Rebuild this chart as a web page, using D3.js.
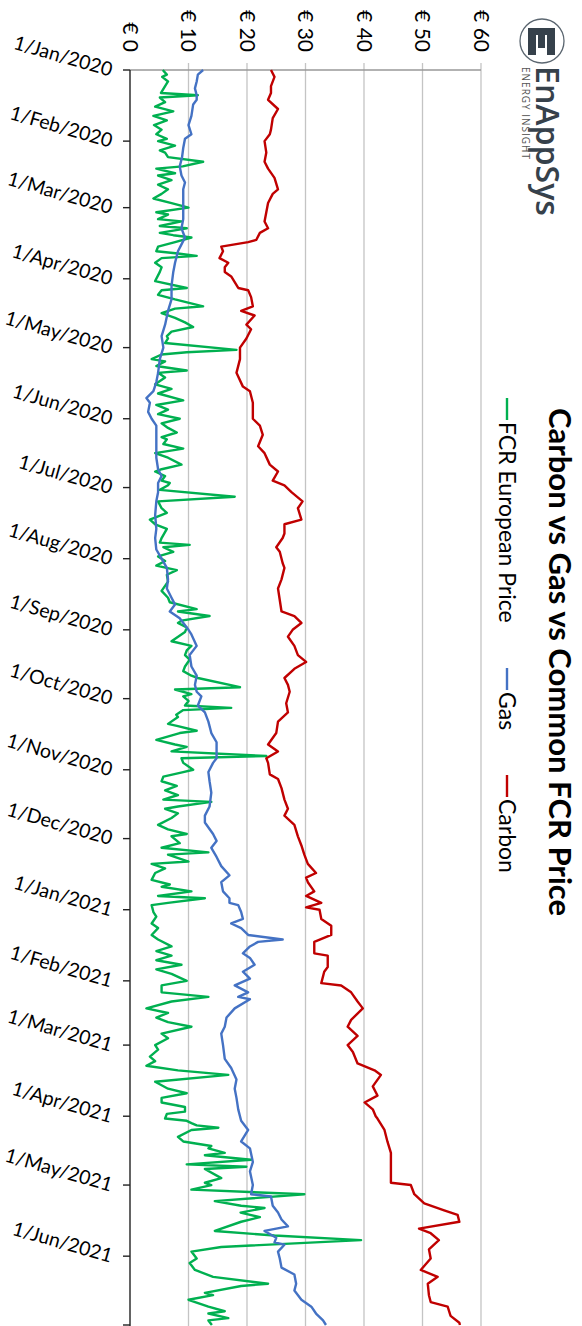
<!DOCTYPE html>
<html>
<head>
<meta charset="utf-8">
<script src="https://cdn.jsdelivr.net/npm/d3@7"></script>
<style>
  html, body { margin: 0; padding: 0; background: #fff; }
  svg { display: block; font-family: Lato, "Open Sans", sans-serif; }
</style>
</head>
<body>
<svg id="chart" width="582" height="1326"></svg>
<script>
// ---- Data: days counted from 1 Jan 2020, prices in € ----
const fcrDay = [0,2,3,5,7,10,11,12,14,16,18,20,22,24,26,28,30,31,33,35,36,38,40,42,43,45,46,48,50,52,54,56,58,60,62,63,65,66,68,69,71,72,73,75,77,79,80,81,82,84,86,88,
  92,95,96,98,100,103,104,106,108,110,112,114,116,117,119,122,123,124,126,127,129,131,132,134,137,139,141,144,146,148,150,152,154,156,158,160,161,163,165,167,169,172,174,175,177,179,180,
  181,183,186,188,191,193,196,198,200,204,206,207,208,210,212,214,216,218,220,223,227,230,232,235,236,238,240,241,243,245,249,251,253,255,257,260,262,264,265,269,270,272,
  273,275,277,278,279,281,282,285,286,288,289,292,294,295,297,299,300,302,305,306,308,310,312,314,316,318,319,321,322,324,326,329,331,333,334,337,339,341,342,345,346,348,350,353,355,356,358,360,361,363,364,
  367,369,372,374,377,379,382,384,386,388,390,392,394,397,399,402,404,406,409,411,413,415,417,420,422,425,427,430,432,434,436,438,441,444,446,448,450,452,454,455,
  457,458,459,460,461,462,465,467,469,470,472,473,475,477,478,479,483,485,486,488,490,493,495,496,498,500,502,506,508,510,513,515,518,520,523,526,529,530,533,534,536,539,541,542,544,545,547];
const fcrPrice = [5.6,6.3,5.5,6.5,6.0,5.3,11.6,5.1,6.0,4.3,7.4,4.0,6.3,4.1,5.4,4.5,6.3,4.8,7.7,5.1,6.0,6.5,12.5,9.0,4.5,7.7,4.8,7.1,4.8,6.5,5.4,4.0,7.1,10.0,4.5,6.5,4.8,8.8,5.1,9.7,5.1,7.4,10.5,7.7,4.8,4.5,8.2,11.4,5.4,4.3,5.4,5.1,
  4.3,9.7,5.4,4.8,7.7,12.5,7.7,5.4,7.7,9.4,10.8,7.1,6.3,6.5,6.0,18.2,9.7,5.4,3.7,6.0,4.5,9.7,4.8,6.0,4.3,7.1,4.8,9.1,4.5,6.5,4.8,8.5,5.4,6.5,8.0,5.4,6.3,5.7,9.1,4.3,6.5,8.8,5.4,4.3,6.0,5.4,6.8,
  6.5,5.1,17.9,4.8,5.4,6.3,3.4,4.3,6.3,5.4,5.1,10.2,5.7,7.4,4.8,6.0,4.5,8.0,6.3,6.5,5.4,6.5,6.8,11.4,8.2,13.6,8.8,8.2,9.7,9.4,7.1,10.5,9.7,9.4,10.2,9.4,9.1,10.5,11.6,18.8,7.7,10.5,
  9.1,10.0,9.4,17.3,9.1,7.9,8.2,6.5,8.2,11.4,8.5,4.5,7.7,9.7,7.1,23.3,8.8,9.1,10.8,9.1,5.7,5.4,8.0,6.0,8.2,5.7,13.9,8.2,6.0,8.2,7.1,4.8,6.5,9.7,7.1,8.5,5.4,13.4,6.5,10.0,3.7,6.0,4.3,3.7,6.8,5.4,10.5,4.8,12.8,6.5,3.7,
  4.0,4.5,3.7,4.8,3.7,4.8,7.1,4.5,7.1,4.5,8.8,4.5,7.1,9.7,5.4,5.4,13.4,7.1,2.8,6.5,4.5,6.5,10.5,5.4,6.5,4.3,4.8,3.4,4.3,2.8,8.2,16.8,4.3,6.5,9.7,5.4,5.4,9.4,9.4,6.3,
  6.0,9.7,10.5,11.4,15.1,10.5,8.2,9.1,13.9,13.4,16.2,12.8,20.7,9.7,19.9,12.8,15.6,12.8,13.9,10.5,29.8,14.5,19.0,23.0,18.9,22.2,19.0,14.5,24.7,39.5,15.6,10.5,11.4,10.2,11.1,14.2,23.6,19.0,12.8,14.2,10.0,13.4,16.2,13.4,16.8,13.4,14.0];

const gasDay = [0,2,5,8,11,13,15,20,24,28,30,34,38,42,46,49,52,56,60,65,69,73,76,79,84,88,94,100,105,111,116,121,126,132,136,140,143,145,149,152,155,159,164,169,174,177,180,
  184,188,194,200,204,209,213,217,222,226,230,233,236,239,244,246,251,255,260,264,268,271,273,277,280,284,289,293,297,300,302,306,310,315,321,325,328,333,336,339,343,347,351,354,358,361,363,
  364,367,370,372,374,377,379,380,382,385,387,390,393,396,399,402,404,405,409,413,417,420,425,431,435,440,444,448,453,456,458,462,467,470,476,480,486,490,491,495,498,501,504,506,509,511,512,515,518,522,525,529,532,536,539,542,545,547];
const gasPrice = [12.5,11.6,11.4,11.1,11.4,11.4,10.8,10.5,10.0,10.5,9.4,9.1,8.9,8.5,8.8,9.4,9.1,9.1,9.1,9.1,8.8,9.4,8.8,8.2,7.7,7.4,7.1,7.1,6.5,6.0,5.4,5.7,5.1,4.8,4.5,4.0,2.8,3.4,3.1,3.7,4.5,4.5,4.5,4.5,4.8,5.4,4.8,
  4.8,4.5,4.3,4.5,4.3,4.5,5.4,6.3,6.5,6.3,7.1,7.7,6.8,8.5,10.0,10.5,11.4,10.2,10.5,11.4,11.1,11.4,12.2,11.6,12.8,13.4,13.9,14.8,14.8,14.8,14.2,13.4,13.6,13.9,13.6,12.8,12.8,14.2,14.8,13.9,14.8,15.6,17.0,15.6,15.9,17.0,17.0,
  18.5,19.0,19.3,17.3,19.0,20.2,26.1,21.9,20.5,19.3,20.5,21.3,19.3,20.5,17.9,20.2,18.5,20.5,17.9,16.5,16.2,15.6,15.9,16.2,17.3,18.2,17.9,18.2,18.5,18.8,19.0,20.2,19.0,20.5,21.0,20.5,21.0,20.7,24.1,24.4,25.3,25.9,27.0,23.0,25.0,24.7,26.4,25.3,25.6,25.9,28.1,28.4,28.1,29.3,31.0,31.8,33.0,33.5];

const carbonDay = [0,3,7,10,13,17,21,26,28,31,36,40,43,47,52,54,58,62,66,69,71,74,75,77,79,82,84,86,88,90,95,96,99,103,105,107,111,113,117,121,126,132,138,140,145,152,155,159,164,167,172,175,179,
  181,184,188,191,196,198,202,204,208,210,215,217,222,226,231,236,238,241,244,247,251,255,258,261,265,268,271,276,280,284,289,294,297,300,302,307,309,313,318,322,325,329,334,338,342,346,350,352,354,358,360,
  363,365,366,370,373,377,380,385,386,391,393,398,399,402,406,409,414,417,421,425,428,433,436,438,443,447,450,453,456,457,462,467,472,476,480,485,486,490,494,497,499,502,505,507,510,514,518,523,526,529,534,537,539,543,546,547];
const carbonPrice = [24.1,24.7,24.1,24.1,23.6,25.3,24.4,24.1,23.9,23.0,23.3,23.0,23.6,24.7,25.3,24.4,23.6,23.3,23.0,23.6,22.2,21.6,20.2,15.6,15.9,15.3,16.8,16.2,16.2,17.3,18.5,20.2,20.7,21.0,19.0,21.3,19.9,20.7,19.9,18.8,18.8,18.2,19.3,20.5,21.0,21.0,22.2,22.7,21.9,23.0,23.9,25.3,24.4,
  26.4,27.6,29.5,28.7,29.3,26.4,26.4,26.1,25.0,25.6,26.1,26.4,25.9,25.3,25.6,25.9,28.1,29.3,27.8,27.0,28.1,28.7,30.1,28.1,26.4,27.0,27.3,26.7,27.0,25.3,25.0,23.6,25.3,23.3,23.6,23.9,25.3,25.9,26.4,27.0,26.4,28.1,28.7,29.3,29.8,30.4,31.8,30.1,30.4,31.5,30.1,
  32.7,30.1,32.4,32.7,34.4,34.4,31.5,31.5,33.8,33.8,33.2,32.7,36.1,37.8,38.9,39.8,37.8,37.2,38.9,37.2,38.1,38.9,41.8,42.9,41.5,42.3,40.1,41.5,42.0,42.3,43.5,44.0,44.6,44.6,44.6,44.6,48.0,48.6,50.3,53.7,56.0,56.3,49.4,51.4,52.8,51.1,51.4,49.7,52.6,50.9,51.1,51.4,54.3,54.8,56.3,56.4];

const seriesNames = ["FCR European Price", "Gas", "Carbon"];
const seriesColors = ["#00b050", "#4472c4", "#c00000"];
const valueTicks = [0, 10, 20, 30, 40, 50, 60];
const chartTitle = "Carbon vs Gas vs Common FCR Price";

// ---- Frame: the chart is laid out landscape and turned a quarter clockwise ----
const W = 1326, H = 582;
const svg = d3.select("#chart");
const g = svg.append("g").attr("transform", `translate(${H},0) rotate(90)`);

const startDate = new Date(2020, 0, 1);
const endDate = new Date(2021, 6, 1);
const dayToDate = d => new Date(2020, 0, 1 + d);

const x = d3.scaleTime().domain([startDate, endDate]).range([70, 1325]);
const y = d3.scaleLinear().domain([0, 60]).range([452, 101]);

// gridlines + value-axis tick marks
g.append("g").selectAll("line").data(valueTicks.filter(v => v > 0)).join("line")
  .attr("x1", 63).attr("x2", W).attr("y1", d => y(d)).attr("y2", d => y(d))
  .attr("stroke", "#c4c4c4").attr("stroke-width", 1.3);

// value axis line
g.append("line").attr("x1", 70).attr("x2", 70).attr("y1", y(0)).attr("y2", y(60))
  .attr("stroke", "#999").attr("stroke-width", 1.3);

// value labels
g.append("g").selectAll("text").data(valueTicks).join("text")
  .attr("x", 52).attr("y", d => y(d)).attr("dy", "0.35em")
  .attr("text-anchor", "end").attr("font-size", 21).attr("fill", "#000")
  .text(d => "€ " + d);

// date axis
const months = d3.timeMonth.range(startDate, d3.timeDay.offset(endDate, 1));
const dateAxis = g.append("g");
dateAxis.append("line").attr("x1", 70).attr("x2", W).attr("y1", y(0)).attr("y2", y(0))
  .attr("stroke", "#222").attr("stroke-width", 1.4);
dateAxis.selectAll("line.tick").data(months).join("line").attr("class", "tick")
  .attr("x1", d => x(d)).attr("x2", d => x(d)).attr("y1", y(0)).attr("y2", y(0) + 7)
  .attr("stroke", "#222").attr("stroke-width", 1.4);
const fmt = d3.timeFormat("%-d/%b/%Y");
dateAxis.selectAll("text").data(months.filter(d => d < endDate)).join("text")
  .attr("transform", d => `translate(${x(d)},${y(0) + 18}) rotate(-74)`)
  .attr("dy", "0.35em").attr("text-anchor", "end")
  .attr("font-size", 19.5).attr("fill", "#000")
  .text(d => fmt(d));

// series lines
const line = d3.line().x(d => x(d.date)).y(d => y(d.v)).curve(d3.curveLinear);
const series = [
  { days: fcrDay, vals: fcrPrice },
  { days: gasDay, vals: gasPrice },
  { days: carbonDay, vals: carbonPrice }
];
series.forEach((s, i) => {
  const pts = s.days.map((d, j) => ({ date: dayToDate(d), v: s.vals[j] }));
  g.append("path").datum(pts).attr("d", line)
    .attr("fill", "none").attr("stroke", seriesColors[i])
    .attr("stroke-width", 2.4).attr("stroke-linejoin", "round");
});

// title
g.append("text").attr("x", 662).attr("y", 33).attr("text-anchor", "middle")
  .attr("font-size", 31).attr("font-weight", 700).attr("fill", "#000")
  .text(chartTitle);

// legend
const legendX = [398, 668, 775];
const legend = g.append("g");
seriesNames.forEach((name, i) => {
  legend.append("line").attr("x1", legendX[i]).attr("x2", legendX[i] + 22)
    .attr("y1", 75).attr("y2", 75).attr("stroke", seriesColors[i]).attr("stroke-width", 2.4);
  legend.append("text").attr("x", legendX[i] + 24).attr("y", 75).attr("dy", "0.35em")
    .attr("font-size", 23).attr("fill", "#000").text(name);
});

// logo
const logo = g.append("g");
logo.append("circle").attr("cx", 41).attr("cy", 40).attr("r", 22)
  .attr("fill", "none").attr("stroke", "#5b6670").attr("stroke-width", 1.3);
const ink = "#36414b";
logo.append("rect").attr("x", 28).attr("y", 27).attr("width", 7).attr("height", 27).attr("fill", ink);
logo.append("rect").attr("x", 28).attr("y", 27).attr("width", 27).attr("height", 8).attr("fill", ink);
logo.append("rect").attr("x", 28).attr("y", 37).attr("width", 20).attr("height", 7).attr("fill", ink);
logo.append("rect").attr("x", 28).attr("y", 46).attr("width", 27).attr("height", 8).attr("fill", ink);
logo.append("text").attr("x", 66).attr("y", 46)
  .attr("font-family", "'Open Sans', sans-serif").attr("font-size", 32).attr("font-weight", 600)
  .attr("fill", ink).attr("textLength", 150).attr("lengthAdjust", "spacingAndGlyphs").text("EnAppSys");
logo.append("text").attr("x", 67).attr("y", 60)
  .attr("font-family", "'Open Sans', sans-serif").attr("font-size", 10).attr("fill", "#555")
  .attr("textLength", 92).attr("lengthAdjust", "spacing").text("ENERGY INSIGHT");
</script>
</body>
</html>
